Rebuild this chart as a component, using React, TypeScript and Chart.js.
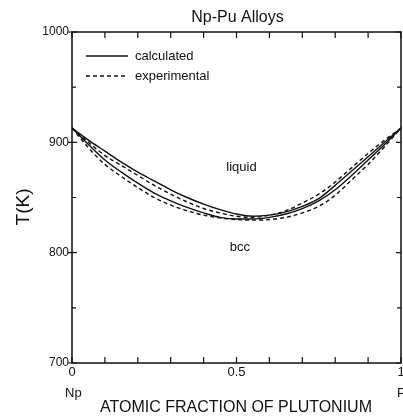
import React, { useEffect, useRef } from "react";
import { Chart, registerables } from "chart.js";

Chart.register(...registerables);

const FONT = '"Liberation Sans", Arial, Helvetica, sans-serif';

// atomic fraction of plutonium
const xFrac = [0, 0.05, 0.1, 0.15, 0.2, 0.25, 0.3, 0.35, 0.4, 0.45, 0.5, 0.55, 0.6, 0.65, 0.7, 0.75, 0.8, 0.85, 0.9, 0.95, 1];
// temperatures (K)
const calcLiquidus = [913, 902, 892, 882, 873, 865, 857, 850, 844, 839, 835, 833, 834, 837, 842, 849, 861, 874, 887, 900, 913];
const calcSolidus = [913, 898, 884, 873, 863, 854, 847, 841, 836, 832, 830.5, 830.5, 832, 835, 840, 847, 857, 870, 884, 898, 913];
const expLiquidus = [913, 900, 888, 879, 870, 861, 853, 846, 840, 836, 833, 832, 834, 838, 845, 853, 864, 877, 890, 902, 913];
const expSolidus = [913, 895, 880, 869, 859, 850, 843, 838, 834, 831.5, 830, 829.5, 830, 832, 836, 842, 852, 866, 880, 896, 913];

const xTickLabels: Record<string, string> = { "0": "0", "0.5": "0.5", "1": "1" };
const yTickLabels = [700, 800, 900, 1000];
const legendItems = [
  { label: "calculated", dash: [] as number[] },
  { label: "experimental", dash: [4, 3] },
];

const toPts = (ys: number[]) => xFrac.map((x, i) => ({ x, y: ys[i] }));

const decorPlugin = {
  id: "decor",
  afterDraw(chart: any) {
    const { ctx, chartArea } = chart;
    const xs = chart.scales.x;
    const ys = chart.scales.y;
    const { left, right, top, bottom } = chartArea;
    ctx.save();
    ctx.strokeStyle = "#111";
    ctx.fillStyle = "#111";
    // frame
    ctx.lineWidth = 1.5;
    ctx.strokeRect(left, top, right - left, bottom - top);
    ctx.lineWidth = 1.2;
    // x ticks (inward, top and bottom)
    xs.ticks.forEach((t: any) => {
      const px = xs.getPixelForValue(t.value);
      ctx.beginPath();
      ctx.moveTo(px, bottom);
      ctx.lineTo(px, bottom - 6);
      ctx.moveTo(px, top);
      ctx.lineTo(px, top + 6);
      ctx.stroke();
    });
    // y ticks
    ys.ticks.forEach((t: any) => {
      const py = ys.getPixelForValue(t.value);
      const major = t.value % 100 === 0;
      ctx.beginPath();
      if (major) {
        ctx.moveTo(left - 4, py);
        ctx.lineTo(left + 5, py);
        ctx.moveTo(right, py);
        ctx.lineTo(right - 5, py);
      } else {
        ctx.moveTo(left, py);
        ctx.lineTo(left + 4, py);
        ctx.moveTo(right, py);
        ctx.lineTo(right - 4, py);
      }
      ctx.stroke();
    });
    // title
    ctx.textAlign = "center";
    ctx.textBaseline = "middle";
    ctx.font = `16px ${FONT}`;
    ctx.fillText("Np-Pu Alloys", (left + right) / 2 + 1, 18);
    // x axis title
    ctx.font = `16px ${FONT}`;
    ctx.fillText("ATOMIC FRACTION OF PLUTONIUM", 236, 408);
    // element labels
    ctx.font = `13px ${FONT}`;
    ctx.textAlign = "left";
    ctx.fillText("Np", 65, 393);
    ctx.fillText("Pu", 397, 393);
    // y axis title
    ctx.save();
    ctx.translate(24, 207);
    ctx.rotate(-Math.PI / 2);
    ctx.textAlign = "center";
    ctx.font = `19px ${FONT}`;
    ctx.fillText("T(K)", 0, 0);
    ctx.restore();
    // region labels
    ctx.textAlign = "center";
    ctx.font = `13px ${FONT}`;
    ctx.fillText("liquid", xs.getPixelForValue(0.515), ys.getPixelForValue(877));
    ctx.fillText("bcc", xs.getPixelForValue(0.51), ys.getPixelForValue(805));
    // legend
    ctx.textAlign = "left";
    ctx.lineWidth = 1.3;
    legendItems.forEach((it, i) => {
      const y = 56 + i * 20;
      ctx.setLineDash(it.dash);
      ctx.beginPath();
      ctx.moveTo(86, y);
      ctx.lineTo(128, y);
      ctx.stroke();
      ctx.setLineDash([]);
      ctx.fillText(it.label, 135, y);
    });
    ctx.restore();
  },
};

export default function App() {
  const ref = useRef<HTMLCanvasElement | null>(null);
  useEffect(() => {
    if (!ref.current) return;
    const line = (label: string, ys: number[], dashed: boolean) => ({
      label,
      data: toPts(ys),
      borderColor: "#111",
      borderWidth: 1.4,
      borderDash: dashed ? [4, 3] : [],
      pointRadius: 0,
      tension: 0.4,
      cubicInterpolationMode: "monotone" as const,
      fill: false,
    });
    const chart = new Chart(ref.current, {
      type: "line",
      data: {
        datasets: [
          line("calculated liquidus", calcLiquidus, false),
          line("calculated solidus", calcSolidus, false),
          line("experimental liquidus", expLiquidus, true),
          line("experimental solidus", expSolidus, true),
        ],
      },
      options: {
        responsive: false,
        animation: false,
        layout: { padding: { left: 0, right: 2, top: 32, bottom: 0 } },
        plugins: { legend: { display: false }, title: { display: false }, tooltip: { enabled: false } },
        scales: {
          x: {
            type: "linear",
            min: 0,
            max: 1,
            border: { display: false },
            grid: { display: false, drawTicks: false },
            ticks: {
              stepSize: 0.1,
              autoSkip: false,
              maxRotation: 0,
              padding: 2,
              color: "#111",
              font: { family: FONT, size: 13 },
              callback: (v: any) => {
                const key = String(Math.round(Number(v) * 10) / 10);
                return xTickLabels[key] ?? "";
              },
            },
            afterFit: (s: any) => {
              s.height = 57;
              s.paddingLeft = 0;
              s.paddingRight = 0;
            },
          },
          y: {
            type: "linear",
            min: 700,
            max: 1000,
            border: { display: false },
            grid: { display: false, drawTicks: false },
            ticks: {
              stepSize: 50,
              autoSkip: false,
              padding: 3,
              color: "#111",
              font: { family: FONT, size: 12 },
              callback: (v: any) => (yTickLabels.includes(Number(v)) ? String(v) : ""),
            },
            afterFit: (s: any) => {
              s.width = 72;
              s.paddingTop = 0;
              s.paddingBottom = 0;
            },
          },
        },
      },
      plugins: [decorPlugin],
    });
    return () => chart.destroy();
  }, []);
  return (
    <div style={{ position: "absolute", left: 0, top: 0, width: 403, height: 420, background: "#fff" }}>
      <canvas ref={ref} width={403} height={420} style={{ display: "block" }} />
    </div>
  );
}
